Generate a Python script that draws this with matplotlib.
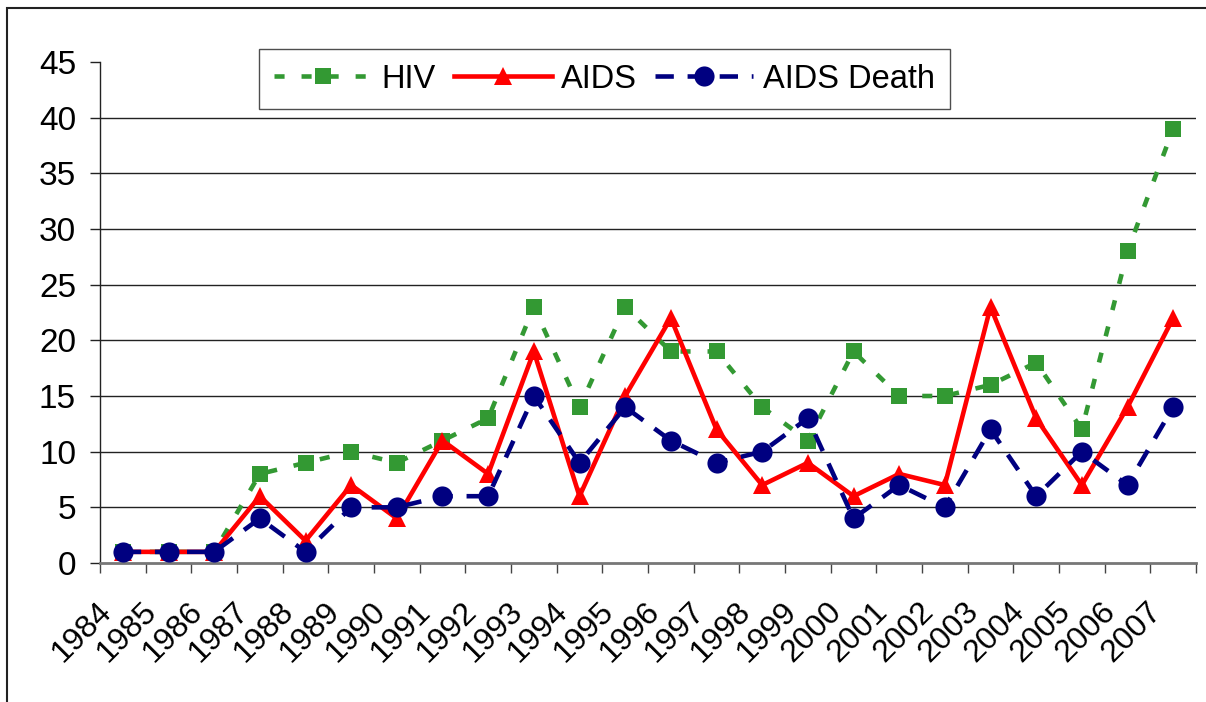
import matplotlib
matplotlib.use("Agg")
import matplotlib.pyplot as plt
import matplotlib.transforms as mtransforms
from matplotlib.patches import Rectangle
import numpy as np

years = [str(y) for y in range(1984, 2008)]
hiv = [1, 1, 1, 8, 9, 10, 9, 11, 13, 23, 14, 23, 19, 19, 14, 11, 19, 15, 15, 16, 18, 12, 28, 39]
aids = [1, 1, 1, 6, 2, 7, 4, 11, 8, 19, 6, 15, 22, 12, 7, 9, 6, 8, 7, 23, 13, 7, 14, 22]
aids_death = [1, 1, 1, 4, 1, 5, 5, 6, 6, 15, 9, 14, 11, 9, 10, 13, 4, 7, 5, 12, 6, 10, 7, 14]
yticks = list(range(0, 50, 5))

plt.rcParams['font.family'] = ['Liberation Sans', 'DejaVu Sans']

W, H = 1206, 702
fig = plt.figure(figsize=(W / 100, H / 100), dpi=100)
ax = fig.add_axes([100 / W, 1 - 563 / H, 1096 / W, 501 / H])

x = np.arange(len(years))
GREEN = '#339933'
RED = '#FF0000'
NAVY = '#000080'

ax.plot(x, hiv, color=GREEN, lw=3.3, dashes=(2.2, 3.7), marker='s', ms=11,
        mfc=GREEN, mec=GREEN, mew=0, label='HIV', zorder=3)
ax.plot(x, aids, color=RED, lw=3.3, marker='^', ms=13, mfc=RED, mec=RED,
        mew=0, label='AIDS', zorder=4)
ax.plot(x, aids_death, color=NAVY, lw=3.3, dashes=(4, 3), marker='o', ms=14.5,
        mfc=NAVY, mec=NAVY, mew=0, label='AIDS Death', zorder=5)

ax.set_ylim(0, 45)
ax.set_xlim(-0.5, len(years) - 0.5)
ax.set_yticks(yticks)
ax.set_yticklabels([str(v) for v in yticks], fontsize=24)
ax.tick_params(axis='y', length=7.2, width=1, pad=10, color='#222222')

ax.set_xticks(x)
ax.set_xticklabels(years, fontsize=23, rotation=45, ha='right', va='center',
                   rotation_mode='anchor')
ax.tick_params(axis='x', which='major', length=0, pad=32)
ax.set_xticks(np.arange(-0.5, len(years), 1.0), minor=True)
ax.tick_params(axis='x', which='minor', length=7.2, width=1, color='#444444')
off = mtransforms.ScaledTranslation(-0.16, 0, fig.dpi_scale_trans)
for lab in ax.get_xticklabels():
    lab.set_transform(lab.get_transform() + off)

ax.grid(axis='y', color='#222222', lw=1)
ax.set_axisbelow(True)
gl = ax.get_ygridlines()
gl[-1].set_visible(False)
gl[0].set_visible(False)

for s in ['top', 'right']:
    ax.spines[s].set_visible(False)
ax.spines['left'].set_color('#222222')
ax.spines['left'].set_linewidth(1)
ax.spines['bottom'].set_color('#777777')
ax.spines['bottom'].set_linewidth(2)

leg = ax.legend(loc='upper left', bbox_to_anchor=(259 / W, 1 - 49 / H),
                bbox_transform=fig.transFigure, ncol=3, fontsize=23.5,
                frameon=True, fancybox=False, shadow=False, borderaxespad=0,
                borderpad=0.45, handlelength=3.0, handletextpad=0.3,
                columnspacing=0.55, markerscale=1.0)
leg.get_frame().set_edgecolor('#222222')
leg.get_frame().set_linewidth(1)

fig.patches.append(Rectangle((7 / W, -0.1), 1.2, 1.1 - 8 / H,
                             transform=fig.transFigure, fill=False,
                             edgecolor='#222222', lw=1.5))

fig.savefig('out.png', dpi=100)
